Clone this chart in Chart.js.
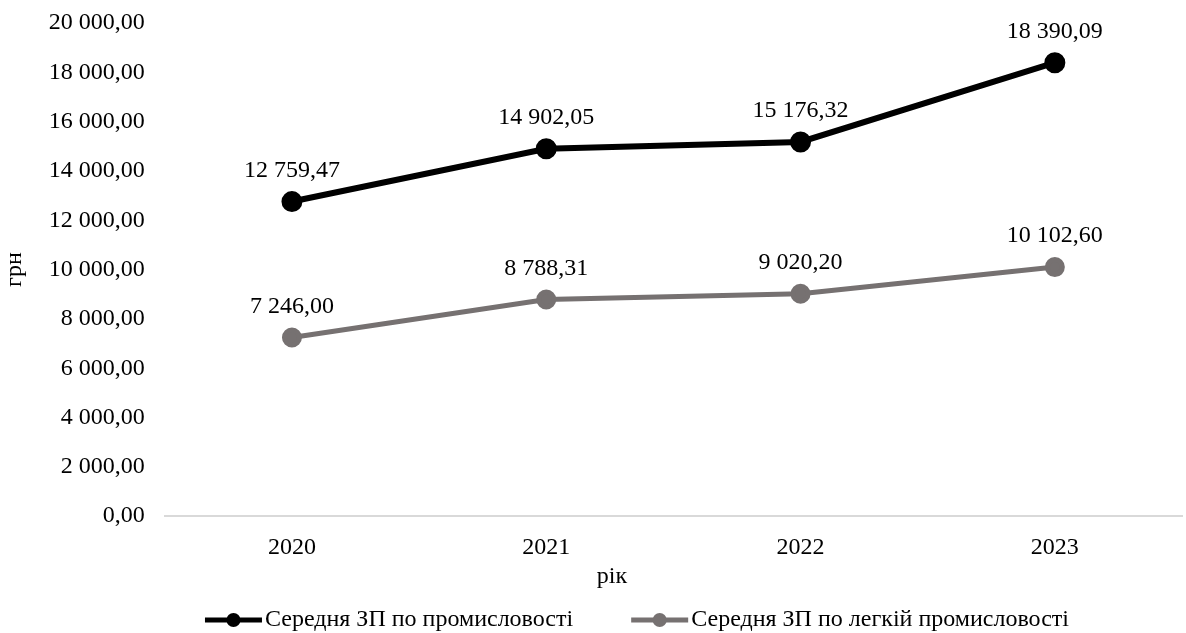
<!DOCTYPE html>
<html>
<head>
<meta charset="utf-8">
<script src="https://cdn.jsdelivr.net/npm/chart.js@4.4.0/dist/chart.umd.min.js"></script>
<style>
  html, body { margin: 0; padding: 0; background: #fff; }
  #wrap { width: 1186px; height: 633px; }
</style>
</head>
<body>
<div id="wrap"><canvas id="myChart" width="1186" height="633"></canvas></div>
<script>
var years = ['2020', '2021', '2022', '2023'];
var allIndustry = [12759.47, 14902.05, 15176.32, 18390.09];
var lightIndustry = [7246.00, 8788.31, 9020.20, 10102.60];
var seriesNames = ['Середня ЗП по промисловості', 'Середня ЗП по легкій промисловості'];
var seriesColors = ['#000000', '#767171'];

var FONT = '"Liberation Serif", "Times New Roman", serif';

// 12759.47 -> "12 759,47"
function fmt(v) {
    var parts = v.toFixed(2).split('.');
    var intPart = parts[0].replace(/\B(?=(\d{3})+(?!\d))/g, ' ');
    return intPart + ',' + parts[1];
}

// labels above the points
var pointLabels = {
    id: 'pointLabels',
    afterDatasetsDraw: function (chart) {
        var ctx = chart.ctx;
        ctx.save();
        ctx.font = '24px ' + FONT;
        ctx.fillStyle = '#000';
        ctx.textAlign = 'center';
        ctx.textBaseline = 'middle';
        chart.data.datasets.forEach(function (ds, i) {
            var meta = chart.getDatasetMeta(i);
            meta.data.forEach(function (pt, j) {
                ctx.fillText(fmt(ds.data[j]), pt.x, pt.y - 31);
            });
        });
        ctx.restore();
    }
};

// x title + legend with line and marker, like excel
var bottomStuff = {
    id: 'bottomStuff',
    afterDraw: function (chart) {
        var ctx = chart.ctx;
        ctx.save();
        ctx.font = '24px ' + FONT;
        ctx.fillStyle = '#000';
        ctx.textAlign = 'center';
        ctx.textBaseline = 'middle';
        ctx.fillText('рік', 612, 577);

        var lineLen = 57, gap = 3, itemGap = 58, y = 620;
        var widths = seriesNames.map(function (n) { return ctx.measureText(n).width; });
        var total = lineLen * 2 + gap * 2 + widths[0] + widths[1] + itemGap;
        var x = 637 - total / 2;
        ctx.textAlign = 'left';
        for (var i = 0; i < seriesNames.length; i++) {
            ctx.strokeStyle = seriesColors[i];
            ctx.lineWidth = 5;
            ctx.beginPath();
            ctx.moveTo(x, y);
            ctx.lineTo(x + lineLen, y);
            ctx.stroke();
            ctx.fillStyle = seriesColors[i];
            ctx.beginPath();
            ctx.arc(x + lineLen / 2, y, 7, 0, Math.PI * 2);
            ctx.fill();
            ctx.fillStyle = '#000';
            ctx.fillText(seriesNames[i], x + lineLen + gap, y);
            x += lineLen + gap + widths[i] + itemGap;
        }
        ctx.restore();
    }
};

var ctx = document.getElementById('myChart').getContext('2d');
var myChart = new Chart(ctx, {
    type: 'line',
    data: {
        labels: years,
        datasets: [{
            label: seriesNames[0],
            data: allIndustry,
            borderColor: seriesColors[0],
            backgroundColor: seriesColors[0],
            borderWidth: 6,
            pointRadius: 7.5,
            pointHoverRadius: 7.5,
            tension: 0
        },
        {
            label: seriesNames[1],
            data: lightIndustry,
            borderColor: seriesColors[1],
            backgroundColor: seriesColors[1],
            borderWidth: 5,
            pointRadius: 7.5,
            pointHoverRadius: 7.5,
            tension: 0
        }]
    },
    options: {
        responsive: false,
        animation: false,
        layout: {
            autoPadding: false,
            padding: { top: 23, right: 4, bottom: 54, left: 0 }
        },
        plugins: {
            legend: { display: false },
            tooltip: { enabled: false }
        },
        scales: {
            x: {
                offset: true,
                grid: { display: false, drawTicks: false },
                border: { display: true, color: '#d9d9d9', width: 2 },
                ticks: {
                    color: '#000',
                    padding: 17,
                    font: { family: FONT, size: 24 }
                }
            },
            y: {
                min: 0,
                max: 20000,
                afterFit: function (scale) { scale.paddingTop = 0; },
                grid: { display: false, drawTicks: false },
                border: { display: false },
                ticks: {
                    stepSize: 2000,
                    color: '#000',
                    padding: 20,
                    font: { family: FONT, size: 24, lineHeight: 1 },
                    callback: function (v) { return fmt(v); }
                },
                title: {
                    display: true,
                    text: 'грн',
                    color: '#000',
                    padding: { top: 0, bottom: 0 },
                    font: { family: FONT, size: 24 }
                }
            }
        }
    },
    plugins: [pointLabels, bottomStuff]
});
</script>
</body>
</html>
